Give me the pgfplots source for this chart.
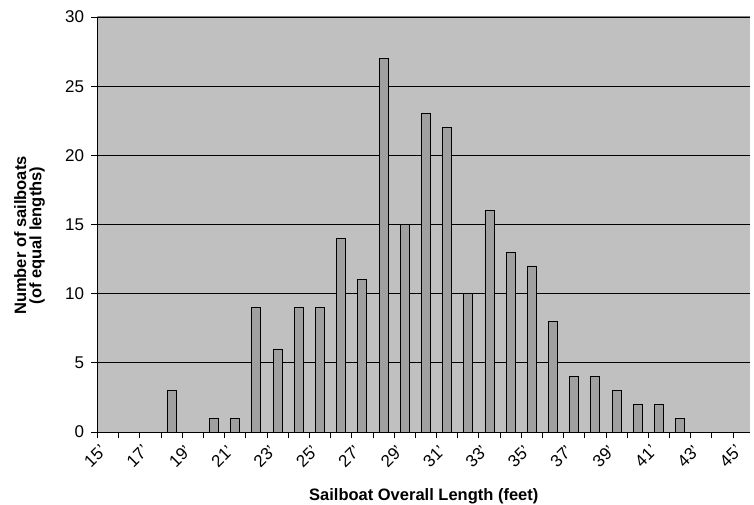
\documentclass[border=0pt]{standalone}
\usepackage{pgfplots}
\pgfplotsset{compat=1.18}
\usepackage{fontspec}
\setmainfont{Liberation Sans}
\definecolor{bgGray}{RGB}{192,192,192}
\definecolor{barGray}{RGB}{160,160,160}
\definecolor{topGray}{RGB}{128,128,128}
\begin{document}
\begin{tikzpicture}[x=1pt,y=1pt]
\path[use as bounding box] (-97.5,-73) rectangle (656.5,432);
\begin{axis}[
  at={(0,0)}, anchor=south west,
  scale only axis, width=652.5pt, height=415pt,
  xmin=15, xmax=45.8, ymin=0, ymax=30,
  axis background/.style={fill=bgGray},
  axis x line*=bottom, axis y line*=left,
  axis line style={line width=0.9pt,-},
  xtick={15,17,...,45},
  xticklabels={15',17',19',21',23',25',27',29',31',33',35',37',39',41',43',45'},
  minor xtick={16,18,...,44},
  ytick={0,5,...,30},
  ymajorgrids, grid style={black, line width=0.8pt},
  tick align=outside,
  major tick length=6pt, minor tick length=6pt,
  tick style={black, line width=0.8pt},
  xticklabel style={rotate=45, anchor=north east, xshift=-2pt, yshift=-4pt, inner sep=1pt, font=\fontsize{17}{19}\selectfont},
  yticklabel style={font=\fontsize{17}{19}\selectfont, xshift=-4pt},
  /pgf/number format/assume math mode=true,
  xlabel={\textbf{Sailboat Overall Length (feet)}},
  xlabel style={font=\fontsize{16.5}{18}\selectfont, at={(axis description cs:0.5,0)}, anchor=center, yshift=-64pt},
  ylabel={\textbf{\shortstack{Number of sailboats\\(of equal lengths)}}},
  ylabel style={font=\fontsize{16.5}{22}\selectfont, at={(axis description cs:0,0.5)}, anchor=center, yshift=68pt, xshift=-11pt},
  ybar, bar width=9pt,
]
\addplot[ybar, fill=barGray, draw=black, line width=0.8pt] coordinates {
(18.5,3) (20.5,1) (21.5,1) (22.5,9) (23.5,6) (24.5,9) (25.5,9) (26.5,14)
(27.5,11) (28.5,27) (29.5,15) (30.5,23) (31.5,22) (32.5,10) (33.5,16)
(34.5,13) (35.5,12) (36.5,8) (37.5,4) (38.5,4) (39.5,3) (40.5,2) (41.5,2) (42.5,1)
};
\draw[topGray, line width=1pt] (rel axis cs:0,1) -- (rel axis cs:1,1);
\end{axis}
\end{tikzpicture}
\end{document}
